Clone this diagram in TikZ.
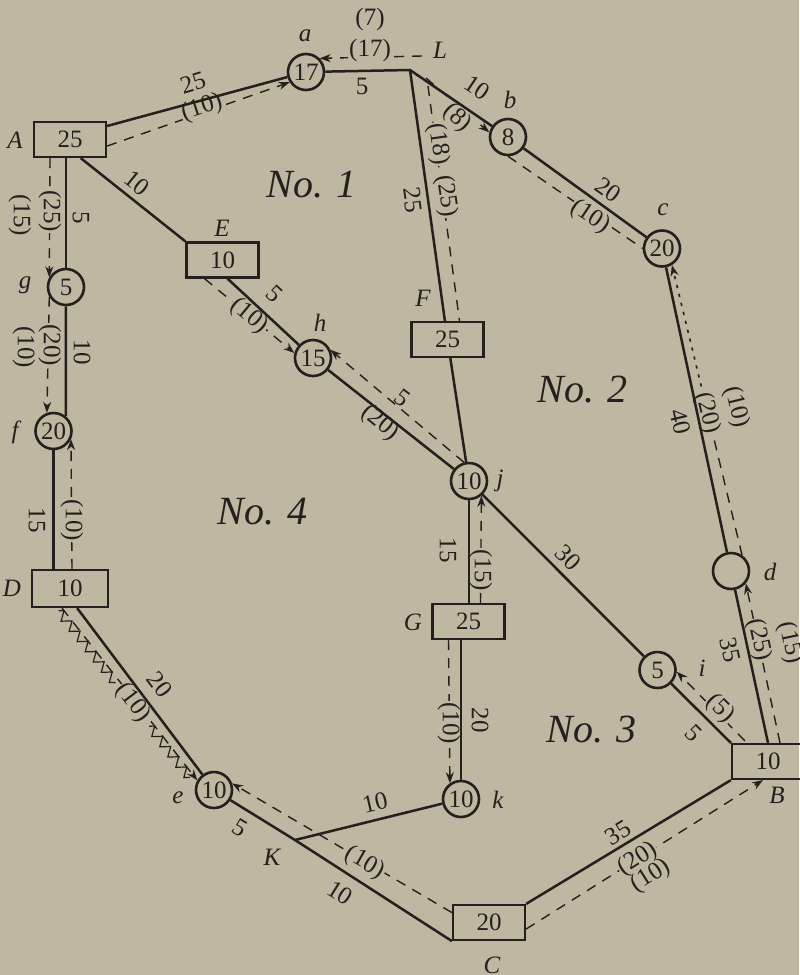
\documentclass[tikz,border=0pt]{standalone}
\usepackage{fontspec}
\setmainfont{Liberation Serif}
\usetikzlibrary{arrows.meta,calc,decorations.pathmorphing}
\definecolor{paper}{RGB}{190,183,161}
\definecolor{ink}{RGB}{36,32,29}
\begin{document}
\begin{tikzpicture}[x=0.5pt,y=-0.5pt,
  numfont/.style={font=\fontsize{12.5}{14}\selectfont},
  box/.style={draw=ink,line width=1.1pt,minimum width=36pt,minimum height=17.5pt,inner sep=0pt,numfont,text=ink},
  ev/.style={circle,draw=ink,line width=1.3pt,minimum size=18pt,inner sep=0pt,numfont,text=ink},
  wire/.style={draw=ink,line width=1.25pt},
  flow/.style={draw=ink,line width=0.7pt,dash pattern=on 5pt off 4pt},
  dotflow/.style={draw=ink,line width=0.8pt,dash pattern=on 1.6pt off 3pt},
  flowtip/.style={-{Stealth[length=5.5pt,width=4pt]}},
  num/.style={numfont,text=ink,inner sep=0.5pt},
  gapnum/.style={num,fill=paper},
  lett/.style={font=\fontsize{12.5}{14}\selectfont\itshape,text=ink,inner sep=0pt},
  zone/.style={font=\fontsize{20}{24}\selectfont\itshape,text=ink,inner sep=0pt},
  saw/.style={draw=ink,line width=0.6pt,decorate,decoration={zigzag,segment length=6.5pt,amplitude=2.2pt}}
]
% paper
\fill[paper] (0,0) rectangle (799,975);
\useasboundingbox (0,0) rectangle (799,975);

% boxed events
\node[box] (boxA) at (70,139.5) {25};
\node[box] (boxE) at (222.5,260) {10};
\node[box] (boxF) at (447.5,339.5) {25};
\node[box,minimum width=38pt,minimum height=18.5pt] (boxD) at (70,588.5) {10};
\node[box] (boxG) at (468.5,621.5) {25};
\node[box] (boxB) at (768,761.5) {10};
\node[box] (boxC) at (489,922.5) {20};

% circled events
\node[ev] (cira) at (306,72) {17};
\node[ev] (cirb) at (508,137) {8};
\node[ev] (circ) at (662,248.5) {20};
\node[ev] (cird) at (731,571) {};
\node[ev] (cire) at (214,790) {10};
\node[ev] (cirf) at (53.5,431) {20};
\node[ev] (cirg) at (66,287) {5};
\node[ev] (cirh) at (313,358) {15};
\node[ev] (ciri) at (657.5,670) {5};
\node[ev] (cirj) at (469,481) {10};
\node[ev] (cirk) at (461,799) {10};

% junction points
\coordinate (L) at (410,70);
\coordinate (K) at (295,840);
\coordinate (Ls) at ([xshift=8pt,yshift=-4pt]L);
\coordinate (dS) at ([xshift=-4pt]boxD.south);
\coordinate (dcm) at ($(cird.55)!0.52!(circ.-59)$);

% flows (dashed)
\draw[flow,flowtip] (boxA.-10) -- (cira.212);
\draw[flow,flowtip] ([xshift=6pt,yshift=7pt]L) -- (cira.45);
\draw[flow,flowtip] (Ls) -- (cirb.166);
\draw[flow] ([xshift=1pt,yshift=-4pt]Ls) -- ([xshift=6pt]boxF.north);
\draw[flow] (cirb.-90) -- (circ.180);
\draw[flow] (cird.55) -- (dcm);
\draw[dotflow,flowtip] (dcm) -- (circ.-59);
\draw[flow,flowtip] ([xshift=6pt]boxB.north) -- (cird.-40);
\draw[flow,flowtip] ([xshift=7pt,yshift=1pt]boxB.north west) -- (ciri.-5);
\draw[flow,flowtip] (boxC.-10) -- ([xshift=-2.5pt]boxB.south);
\draw[flow,flowtip] (boxC.165) -- (cire.20);
\draw[flow,flowtip] (dS) -- (cire.150);
\draw[flow,flowtip] ([xshift=1pt]boxD.north) -- (cirf.-25);
\draw[flow,flowtip] ([xshift=-10pt]boxA.south) -- (cirg.150);
\draw[flow,flowtip] (cirg.210) -- (cirf.110);
\draw[flow,flowtip] ([xshift=-9pt]boxE.south) -- (cirh.165);
\draw[flow,flowtip] (cirj.105) -- (cirh.25);
\draw[flow,flowtip] ([xshift=6pt]boxG.north) -- (cirj.-50);
\draw[flow,flowtip] ([xshift=-10pt]boxG.south) -- (cirk.125);

% saw-tooth along the D--e flow
\coordinate (z0) at ($(dS)!2.2pt!-90:(cire.150)$);
\coordinate (z1) at ($(cire.150)!2.2pt!90:(dS)$);
\draw[saw] (z0) -- ($(z0)!0.42!(z1)$);
\draw[saw] ($(z0)!0.67!(z1)$) -- ($(z0)!0.97!(z1)$);

% flow amounts
\node[gapnum,rotate=18] (fAa) at (202,108) {(10)};
\node[gapnum] (fLa) at (370,50) {(17)};
\node[num] (fLa2) at (370,19) {(7)};
\node[gapnum,rotate=-42] (fLb) at (457,118) {(8)};
\node[gapnum,rotate=-82] (fLF1) at (438,144) {(18)};
\node[gapnum,rotate=-82] (fLF2) at (446,196) {(25)};
\node[gapnum,rotate=-34] (fbc) at (590,217) {(10)};
\node[gapnum,rotate=-76.5] (fdc1) at (707,413) {(20)};
\node[num,rotate=-76.5] (fdc2) at (736,407) {(10)};
\node[gapnum,rotate=-78] (fBd1) at (759,640) {(25)};
\node[num,rotate=-78] (fBd2) at (790,643) {(15)};
\node[gapnum,rotate=-45] (fBi) at (720,709) {(5)};
\node[gapnum,rotate=32.4] (fCB1) at (638,859) {(20)};
\node[num,rotate=32.4] (fCB2) at (651,876) {(10)};
\node[gapnum,rotate=-30] (fCe) at (365,863) {(10)};
\node[gapnum,rotate=-53] (fDe) at (133,703) {(10)};
\node[gapnum,rotate=-90] (fDf) at (72,520) {(10)};
\node[gapnum,rotate=-90] (fAg1) at (50,211) {(25)};
\node[num,rotate=-90] (fAg2) at (20,215) {(15)};
\node[gapnum,rotate=-90] (fgf1) at (50,345) {(20)};
\node[num,rotate=-90] (fgf2) at (24,347) {(10)};
\node[gapnum,rotate=-40] (fEh) at (249,316) {(10)};
\node[num,rotate=-39] (fjh) at (380,423) {(20)};
\node[gapnum,rotate=-90] (fGj) at (481,570) {(15)};
\node[gapnum,rotate=-90] (fGk) at (449,723) {(10)};

% activities (solid)
\draw[wire] (boxA.20) -- (cira);
\draw[wire] (cira) -- (L) -- (cirb);
\draw[wire] (cirb) -- (circ);
\draw[wire] (L) -- (boxF);
\draw[wire] (boxF) -- (cirj);
\draw[wire] (boxA.-60) -- (boxE.north west);
\draw[wire] (boxE.-75) -- (cirh);
\draw[wire] (cirh) -- (cirj);
\draw[wire] (cirj) -- (ciri);
\draw[wire] (cirj) -- (cirj |- boxG.north);
\draw[wire] (cirk.north |- boxG.south) -- (cirk);
\draw[wire] (ciri) -- (boxB.north west);
\draw[wire] (circ) -- (cird);
\draw[wire] (cird) -- (boxB.north);
\draw[wire] (boxC.north east) -- (boxB.south west);
\draw[wire] (cirg.north |- boxA.south) -- (cirg);
\draw[wire] (cirg) -- (cirf.50);
\draw[wire] (cirf) -- (cirf |- boxD.north);
\draw[wire] (boxD.-70) -- (cire);
\draw[wire] (cire) -- (K) -- (boxC.south west);
\draw[wire] (K) -- (cirk);

% durations
\node[num,rotate=17] (wAa) at (193,83) {25};
\node[num] (waL) at (362,86) {5};
\node[num,rotate=-34] (wLb) at (477,88) {10};
\node[num,rotate=-35] (wbc) at (608,190) {20};
\node[num,rotate=-82] (wLF) at (413,200) {25};
\node[num,rotate=-39] (wAE) at (137,183) {10};
\node[num,rotate=-90] (wAg) at (81,218) {5};
\node[num,rotate=-90] (wgf) at (82,352) {10};
\node[num,rotate=-90] (wfD) at (37,520) {15};
\node[num,rotate=-43] (wEh) at (275,294) {5};
\node[num,rotate=-38] (whj) at (402,398) {5};
\node[num,rotate=-90] (wjG) at (448,550) {15};
\node[num,rotate=-45] (wji) at (568,558) {30};
\node[num,rotate=-77] (wcd) at (680,422) {40};
\node[num,rotate=-78] (wdB) at (730,650) {35};
\node[num,rotate=-45] (wiB) at (694,733) {5};
\node[num,rotate=-90] (wGk) at (480,720) {20};
\node[num,rotate=-53] (wDe) at (160,685) {20};
\node[num,rotate=-31] (weK) at (240,828) {5};
\node[num,rotate=-32] (wKC) at (340,893) {10};
\node[num,rotate=13] (wKk) at (375,803) {10};
\node[num,rotate=31.5] (wCB) at (618,833) {35};

% event letters
\node[lett] (tA) at (15,140) {A};
\node[lett] (ta) at (305,36) {a};
\node[lett] (tL) at (440,50) {L};
\node[lett] (tb) at (510,100) {b};
\node[lett] (tc) at (663,210) {c};
\node[lett] (tE) at (222,228) {E};
\node[lett] (tg) at (25,285) {g};
\node[lett] (th) at (320,323) {h};
\node[lett] (tF) at (423,298) {F};
\node[lett] (tf) at (15,432) {f};
\node[lett] (tj) at (500,481) {j};
\node[lett] (td) at (770,572) {d};
\node[lett] (tD) at (12,588) {D};
\node[lett] (ti) at (702,668) {i};
\node[lett] (tG) at (413,622) {G};
\node[lett] (tk) at (498,800) {k};
\node[lett] (te) at (178,798) {e};
\node[lett] (tK) at (272,857) {K};
\node[lett] (tB) at (777,795) {B};
\node[lett] (tC) at (492,965) {C};

% regions
\node[zone] (z1lab) at (312,185) {No. 1};
\node[zone] (z2lab) at (583,390) {No. 2};
\node[zone] (z3lab) at (592,730) {No. 3};
\node[zone] (z4lab) at (263,512) {No. 4};
\end{tikzpicture}
\end{document}
